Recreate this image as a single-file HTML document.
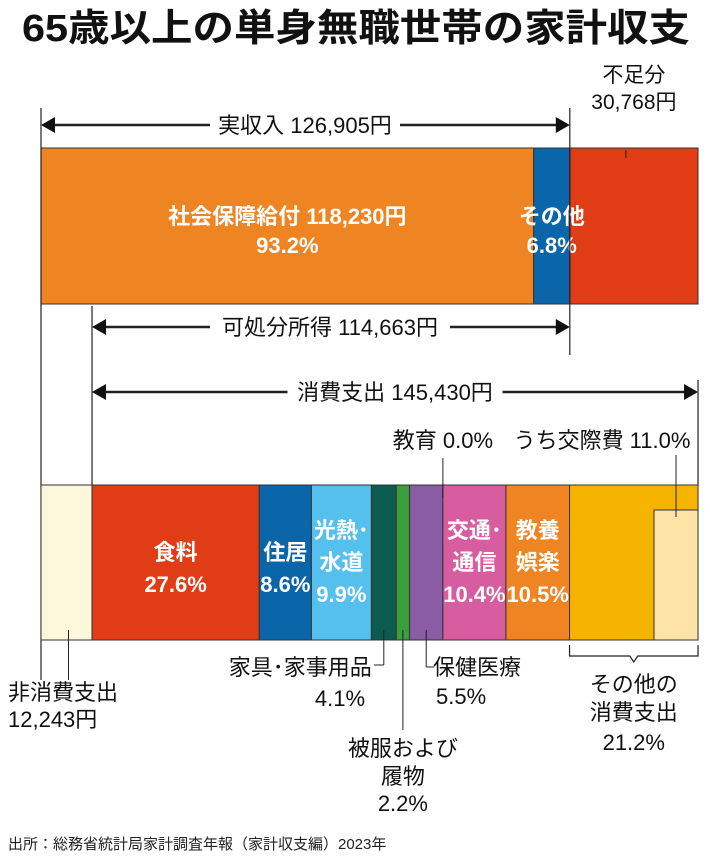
<!DOCTYPE html>
<html><head><meta charset="utf-8">
<style>
html,body{margin:0;padding:0;background:#fff;}
svg{display:block;}
text{font-family:"Liberation Sans","Noto Sans CJK JP",sans-serif;}
</style></head>
<body>
<svg id="chart" width="710" height="866" viewBox="0 0 710 866">
<text x="22" y="41" font-size="38" font-weight="bold" fill="#111" textLength="668" lengthAdjust="spacingAndGlyphs">65歳以上の単身無職世帯の家計収支</text>
<g id="marks"></g>
<text x="8" y="849" font-size="15" fill="#222">出所：総務省統計局家計調査年報（家計収支編）2023年</text>
</svg>
<script>
// data (yen)
const incomeCats = ['社会保障給付', 'その他'];
const incomeVals = [118230, 8675];
const deficitVal = 30768;
const nonConsumption = 12243;
const consumptionTotal = 145430;
const disposable = 114663;
const incomeTotal = 126905;
const spendCats = ['食料','住居','光熱・水道','家具・家事用品','被服および履物','保健医療','教育','交通・通信','教養娯楽','その他の消費支出'];
const spendPct = [27.6, 8.6, 9.9, 4.1, 2.2, 5.5, 0.0, 10.4, 10.5, 21.2];
const socialPct = [93.2, 6.8];
const entertainPct = 11.0;

const NS='http://www.w3.org/2000/svg';
const g=document.getElementById('marks');
const X0=41, PX=606/145430;
const xs=v=>X0+v*PX;
function el(tag,attrs,txt){const e=document.createElementNS(NS,tag);for(const k in attrs)e.setAttribute(k,attrs[k]);if(txt!==undefined)e.textContent=txt;g.appendChild(e);return e;}
function line(x1,y1,x2,y2,name,w){const e=el('line',{x1,y1,x2,y2,stroke:'#222','stroke-width':w||1.2});

return e;}
function txt(x,y,s,name,opt){opt=opt||{};const e=el('text',{x,y,'font-size':opt.size||22,'text-anchor':opt.anchor||'middle',fill:opt.fill||'#111','font-weight':opt.weight||(opt.fill?'bold':'normal')},s);

return e;}
function arrow(x1,x2,y,name){line(x1+10,y,x2-10,y,name,2.5);
const a=el('polygon',{points:`${x1},${y} ${x1+14},${y-8} ${x1+14},${y+8}`,fill:'#111'});


const b=el('polygon',{points:`${x2},${y} ${x2-14},${y-8} ${x2-14},${y+8}`,fill:'#111'});

}
function labelBg(x,y,w,h,name){const r=el('rect',{x:x-w/2,y:y-h/2,width:w,height:h,fill:'#fff'});

}

// top bar
const topY=148, topH=156;
const incColors=['#ee8422','#0a66a8'];
let cx=0;
incomeVals.forEach((v,i)=>{
 const r=el('rect',{x:xs(cx),y:topY,width:v*PX,height:topH,fill:incColors[i],stroke:'#333','stroke-width':1});
 
 
 cx+=v;
});
const rd=el('rect',{x:xs(cx),y:topY,width:deficitVal*PX,height:topH,fill:'#e03c16',stroke:'#333','stroke-width':1});


txt((xs(0)+xs(incomeVals[0]))/2,224,incomeCats[0]+' '+incomeVals[0].toLocaleString('en-US')+'円','social-security-label',{fill:'#fff'});
txt((xs(0)+xs(incomeVals[0]))/2,253,socialPct[0].toFixed(1)+'%','social-security-pct',{fill:'#fff'});
const ox=(xs(incomeVals[0])+xs(incomeTotal))/2;
txt(ox,224,incomeCats[1],'other-income-label',{fill:'#fff'});
txt(ox,253,socialPct[1].toFixed(1)+'%','other-income-pct',{fill:'#fff'});
const dx=(xs(incomeTotal)+xs(incomeTotal+deficitVal))/2;
txt(dx,82,'不足分','deficit-title',{size:21});
txt(dx,109,deficitVal.toLocaleString('en-US')+'円','deficit-value',{size:21});
line(dx-8,150,dx-8,158,'deficit-pointer',1);

// vertical guides
const xN=xs(nonConsumption), xI=xs(incomeTotal), xE=xs(nonConsumption+consumptionTotal);
line(X0,108,X0,680,'left-guide');
line(xI,108,xI,355,'income-end-guide');
line(xN,306,xN,485,'consumption-start-guide');
line(xE,380,xE,485,'consumption-end-guide');

// arrows
arrow(X0,xI,125,'income-arrow');
labelBg(305,125,190,28,'income-label');
txt(305,133,'実収入 '+incomeTotal.toLocaleString('en-US')+'円','income-label');
arrow(xN,xI,327,'disposable-arrow');
labelBg(330,327,240,28,'disposable-label');
txt(330,335,'可処分所得 '+disposable.toLocaleString('en-US')+'円','disposable-label');
arrow(xN,xE,392,'consumption-arrow');
labelBg(395,392,215,28,'consumption-label');
txt(395,400,'消費支出 '+consumptionTotal.toLocaleString('en-US')+'円','consumption-label');

// bottom bar
const bY=485,bH=155;
const nc=el('rect',{x:X0,y:bY,width:nonConsumption*PX,height:bH,fill:'#fdf7dc',stroke:'#333','stroke-width':1});


const sColors=['#e03c16','#0a66a8','#55bfee','#0b5b4f','#3a9e3c','#8a5ca3','#8a5ca3','#d75ca0','#ee8422','#f6b400'];
const inner=[['食料'],['住居'],['光熱･','水道'],null,null,null,null,['交通･','通信'],['教養','娯楽'],null];
const lblY=[[560,592],[560,592],[538,570,602],null,null,null,null,[538,570,602],[538,570,602]];
let acc=0; const segX=[];
spendPct.forEach((p,i)=>{
 const w=p/100*consumptionTotal*PX;
 const sx=xN+acc/100*consumptionTotal*PX;
 segX.push([sx,sx+w]);
 const r=el('rect',{x:sx,y:bY,width:w,height:bH,fill:sColors[i],stroke:'#333','stroke-width':1});
 
 
 if(inner[i]){const c=sx+w/2;const ys=lblY[i];
  inner[i].forEach((t,j)=>txt(c,ys[j],t,'spend-label-'+i+'-'+j,{fill:'#fff'}));
  txt(c,ys[inner[i].length],p.toFixed(1)+'%','spend-pct-'+i,{fill:'#fff'});}
 acc+=p;
});
// entertainment inner box
const oth=segX[9];
const ew=entertainPct/100*consumptionTotal*PX*0.66;
const eb=el('rect',{x:oth[1]-ew,y:510,width:ew,height:bY+bH-510,fill:'#fde3a6',stroke:'#333','stroke-width':1});


const ec=oth[1]-ew/2;
line(ec,455,ec,517,'entertainment-pointer',1);
txt(602,448,'うち交際費 '+entertainPct.toFixed(1)+'%','entertainment-label');
// education
const edx=segX[6][0];
line(edx,458,edx,498,'education-pointer',1);
txt(edx,448,'教育 '+spendPct[6].toFixed(1)+'%','education-label');

// callouts
const ncx=(X0+xN)/2+2;
line(ncx,630,ncx,680,'non-consumption-pointer',1);
txt(8,700,'非消費支出','non-consumption-title',{anchor:'start'});
txt(8,727,nonConsumption.toLocaleString('en-US')+'円','non-consumption-value',{anchor:'start'});
const fx=(segX[3][0]+segX[3][1])/2;
line(fx,630,fx,665,'furniture-pointer',1);line(fx,665,fx-10,665,'furniture-pointer-h',1);
txt(fx-12,675,'家具･家事用品','furniture-label',{anchor:'end'});
txt(340,706,spendPct[3].toFixed(1)+'%','furniture-pct');
const cl=(segX[4][0]+segX[4][1])/2;
line(cl,630,cl,730,'clothing-pointer',1);
txt(cl,756,'被服および','clothing-label-1');
txt(cl,784,'履物','clothing-label-2');
txt(cl,811,spendPct[4].toFixed(1)+'%','clothing-pct');
const hx=(segX[5][0]+segX[5][1])/2;
line(hx,630,hx,667,'health-pointer',1);line(hx,667,hx+8,667,'health-pointer-h',1);
txt(433,675,spendCats[5],'health-label',{anchor:'start'});
txt(436,704,spendPct[5].toFixed(1)+'%','health-pct',{anchor:'start'});
const bc=(oth[0]+oth[1])/2;
const br=el('polyline',{points:`${oth[0]},645 ${oth[0]},656 ${bc-4},656 ${bc},662 ${bc+4},656 ${oth[1]},656 ${oth[1]},645`,fill:'none',stroke:'#222','stroke-width':1.2});


txt(bc,692,'その他の','other-label-1');
txt(bc,720,'消費支出','other-label-2');
txt(bc,750,spendPct[9].toFixed(1)+'%','other-pct');
</script>
</body></html>
